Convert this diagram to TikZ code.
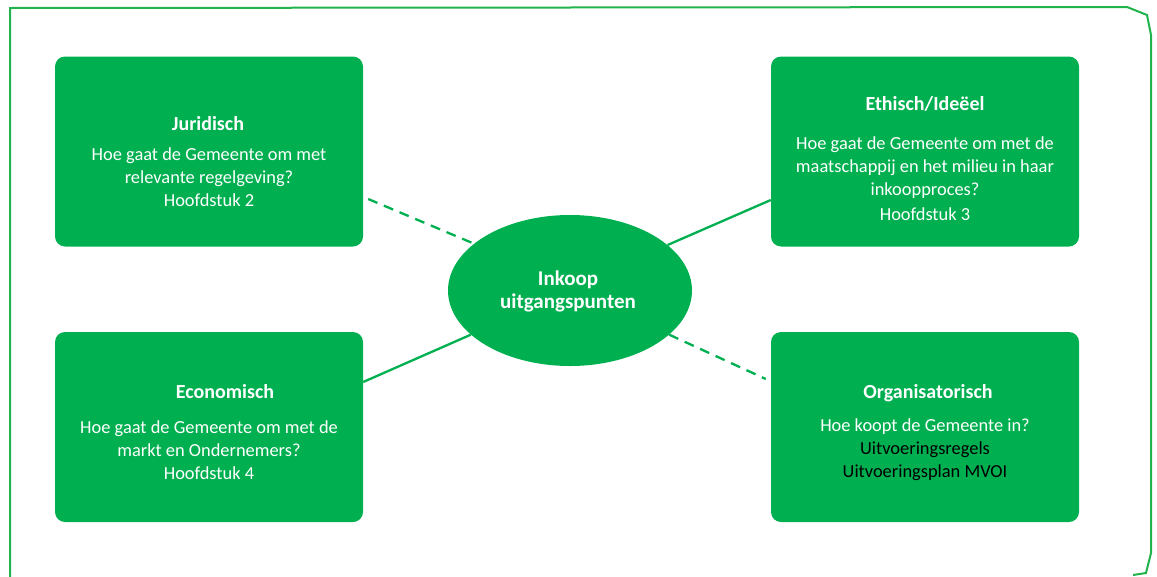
\documentclass[tikz,border=0pt]{standalone}
\usepackage{fontspec}
\setmainfont{Carlito}
\usetikzlibrary{shapes.geometric,calc}
\definecolor{ogreen}{RGB}{0,176,80}
\definecolor{fgreen}{RGB}{34,180,76}
\tikzset{
  box/.style={draw=none,fill=ogreen,rounded corners=10pt,minimum width=308pt,minimum height=190pt,inner sep=0pt},
  core/.style={ellipse,fill=ogreen,minimum width=244pt,minimum height=151pt,inner sep=0pt},
  ttl/.style={text=white,font=\fontsize{20}{23}\selectfont\bfseries,inner sep=0pt},
  body/.style={text=white,font=\fontsize{18.4}{23}\selectfont,align=center,inner sep=0pt},
  link/.style={draw=ogreen,line width=2.3pt},
  dlink/.style={link,dash pattern=on 10pt off 7pt},
  frame/.style={draw=fgreen,line width=2pt}
}
\begin{document}
\begin{tikzpicture}[x=1pt,y=-1pt]
\useasboundingbox (0,0) rectangle (1157,576);
% outer frame
\draw[frame] (10,580) -- (10,8) -- (1127,7) -- (1147,15) -- (1151,35) -- (1151,553) -- (1146,573) -- (1133,575);
% boxes
\node[box] (jur) at (209,151.5) {};
\node[box] (eth) at (925,151.5) {};
\node[box] (eco) at (209,427) {};
\node[box] (org) at (925,427) {};
\node[core] (core) at (570,290.5) {};
% texts
\node[ttl] (jurt) at (208,124) {Juridisch};
\node[body] (jurb) at (209,177.5) {Hoe gaat de Gemeente om met\\relevante regelgeving?\\Hoofdstuk 2};
\node[ttl] (etht) at (925,104) {Ethisch/Ideëel};
\node[body] (ethb) at (925,178.5) {Hoe gaat de Gemeente om met de\\maatschappij en het milieu in haar\\inkoopproces?\\[2pt]Hoofdstuk 3};
\node[ttl] (ecot) at (225,392) {Economisch};
\node[body] (ecob) at (209,450.5) {Hoe gaat de Gemeente om met de\\markt en Ondernemers?\\Hoofdstuk 4};
\node[ttl] (orgt) at (928,393) {Organisatorisch};
\node[body] (orgb) at (925,450) {Hoe koopt de Gemeente in?\\\textcolor{black}{Uitvoeringsregels}\\\textcolor{black}{Uitvoeringsplan MVOI}};
\node[ttl,align=center,font=\fontsize{21}{23}\selectfont\bfseries] (coret) at (568,291) {Inkoop\\uitgangspunten};
% connectors
\draw[dlink] ($(jur.east)+(5,47.5)$) -- (core.154);
\draw[link] (core.25) -- ($(eth.west)+(0,48.5)$);
\draw[link] ($(eco.east)+(0,-45)$) -- (core.204);
\draw[dlink] (core.-24) -- ($(org.west)+(-5,-48)$);
\end{tikzpicture}
\end{document}
